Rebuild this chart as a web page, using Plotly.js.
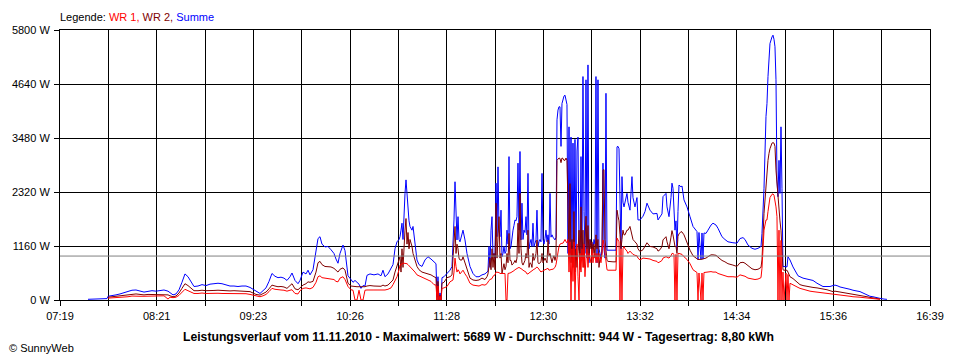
<!DOCTYPE html>
<html><head><meta charset="utf-8">
<script src="https://cdn.plot.ly/plotly-3.0.1.min.js"></script>
<style>html,body{margin:0;padding:0;background:#fff}#chart{width:960px;height:360px}</style>
</head><body><div id="chart"></div>
<script>
const day = '2010-11-11 ';
const times = [
'07:37:01','07:41:32','07:44:45','07:49:15','07:49:54','07:52:28','07:55:03','07:57:37','08:00:11','08:02:46',
'08:05:20','08:07:55','08:10:30','08:13:04','08:15:39','08:18:13','08:20:48','08:23:22','08:25:56','08:28:31',
'08:29:48','08:31:44','08:33:40','08:35:36','08:37:31','08:39:27','08:41:23','08:43:20','08:45:15','08:47:50',
'08:50:24','08:52:59','08:55:33','08:58:07','09:00:42','09:03:16','09:05:51','09:08:25','09:10:59','09:13:34',
'09:16:09','09:18:44','09:21:18','09:23:14','09:25:10','09:27:44','09:29:40','09:31:36','09:33:32','09:35:27',
'09:37:23','09:39:19','09:41:15','09:43:10','09:45:06','09:47:03','09:48:20','09:50:16','09:52:12','09:53:29',
'09:55:25','09:57:21','09:58:38','09:59:55','10:01:51','10:03:47','10:05:04','10:06:21','10:07:38','10:09:34',
'10:11:30','10:13:26','10:15:21','10:16:39','10:17:56','10:19:14','10:21:10','10:22:27','10:24:23','10:26:19',
'10:27:36','10:28:53','10:30:10','10:31:28','10:32:45','10:34:02','10:35:19','10:36:36','10:38:32','10:41:06',
'10:43:41','10:45:37','10:46:54','10:48:11','10:50:07','10:52:04','10:53:21','10:54:38','10:55:55','10:57:13',
'10:57:51','10:58:30','10:59:08','10:59:47','11:00:25','11:01:04','11:01:43','11:02:21','11:03:00','11:03:39',
'11:04:17','11:05:34','11:06:13','11:07:30','11:08:47','11:10:05','11:12:00','11:13:56','11:15:52','11:17:48',
'11:19:43','11:21:01','11:21:40','11:22:18','11:22:57','11:23:36','11:24:15','11:24:53','11:26:10','11:28:06',
'11:30:02','11:31:19','11:31:58','11:32:36','11:33:15','11:33:54','11:34:32','11:35:11','11:35:50','11:36:28',
'11:37:45','11:38:24','11:39:41','11:40:58','11:42:54','11:44:50','11:46:46','11:48:42','11:50:37','11:52:33',
'11:53:50','11:54:29','11:55:08','11:55:47','11:56:26','11:57:04','11:57:43','11:58:21','11:59:00','11:59:39',
'12:00:17','12:00:56','12:01:35','12:02:13','12:02:52','12:03:30','12:04:09','12:04:47','12:05:26','12:06:05',
'12:06:43','12:07:22','12:08:01','12:08:39','12:09:18','12:09:56','12:10:35','12:11:13','12:11:52','12:12:31',
'12:13:09','12:13:48','12:14:27','12:15:05','12:15:44','12:16:22','12:17:01','12:17:39','12:18:18','12:18:57',
'12:19:35','12:20:14','12:20:53','12:21:31','12:22:10','12:22:48','12:23:27','12:24:05','12:24:44','12:25:23',
'12:26:01','12:26:40','12:27:19','12:27:58','12:28:36','12:29:15','12:29:53','12:30:32','12:31:11','12:31:49',
'12:32:28','12:33:07','12:33:45','12:34:24','12:35:03','12:35:41','12:36:20','12:36:58','12:37:37','12:38:16',
'12:38:54','12:39:33','12:40:11','12:40:50','12:41:29','12:42:07','12:42:46','12:43:24','12:44:03','12:44:42',
'12:45:20','12:45:59','12:46:38','12:47:16','12:47:55','12:48:33','12:49:12','12:49:50','12:50:29','12:51:08',
'12:51:46','12:52:25','12:53:04','12:53:42','12:54:21','12:54:59','12:55:38','12:56:16','12:56:55','12:57:34',
'12:58:12','12:58:51','12:59:30','13:00:09','13:00:47','13:01:26','13:02:04','13:02:43','13:03:22','13:04:00',
'13:04:39','13:05:17','13:05:56','13:06:35','13:07:13','13:07:52','13:08:30','13:09:09','13:09:48','13:10:26',
'13:11:05','13:11:44','13:13:01','13:14:57','13:16:53','13:17:32','13:18:11','13:18:49','13:19:27','13:20:06',
'13:20:44','13:21:23','13:22:02','13:22:40','13:23:57','13:24:36','13:25:53','13:27:10','13:27:49','13:29:06',
'13:30:23','13:31:02','13:32:20','13:34:16','13:35:33','13:36:50','13:38:46','13:40:42','13:43:16','13:43:55',
'13:45:12','13:46:29','13:47:08','13:49:04','13:49:43','13:51:00','13:52:17','13:52:55','13:53:34','13:54:12',
'13:54:51','13:55:30','13:56:08','13:56:47','13:57:26','13:58:43','13:59:22','14:00:39','14:02:35','14:04:31',
'14:06:27','14:09:01','14:09:40','14:10:18','14:11:36','14:12:14','14:12:53','14:13:31','14:14:48','14:16:05',
'14:18:02','14:19:19','14:21:15','14:22:32','14:25:06','14:27:01','14:28:57','14:32:09','14:34:45','14:36:42',
'14:38:38','14:39:55','14:41:51','14:44:26','14:46:21','14:48:17','14:50:13','14:50:51','14:52:09','14:53:26',
'14:54:04','14:54:43','14:55:22','14:56:00','14:57:17','14:57:56','14:58:35','14:59:13','14:59:52','15:00:30',
'15:01:09','15:01:48','15:02:26','15:03:05','15:03:43','15:04:22','15:05:01','15:06:18','15:06:57','15:07:35',
'15:08:14','15:08:53','15:10:49','15:12:45','15:14:02','15:15:19','15:17:15','15:19:49','15:21:45','15:23:41',
'15:26:16','15:28:11','15:30:07','15:32:42','15:34:37','15:36:33','15:37:51','15:39:47','15:41:04','15:43:38',
'15:45:34','15:47:30','15:49:26','15:52:01','15:53:56','15:56:31','15:58:27','16:00:22','16:02:18','16:04:14',
'16:06:48','16:09:23','16:11:18'
];
const summe = [
15,15,30,30,80,90,110,130,160,180,
210,215,190,170,185,200,190,210,215,190,
150,110,130,220,380,560,500,390,290,300,
330,310,340,350,360,350,330,300,300,290,
300,300,270,230,180,140,200,260,400,570,
510,480,490,470,420,500,580,420,350,420,
600,560,640,540,650,1000,1320,1360,1200,1140,
1150,1080,1000,880,790,1000,1180,1060,520,440,
380,420,380,340,250,310,300,530,560,540,
560,520,640,500,560,700,760,1100,1250,1300,
1360,1500,1650,1300,2080,2290,2580,2300,1860,1700,
1580,1500,1580,1150,860,760,720,860,930,880,
820,780,60,500,0,150,0,480,500,570,
640,720,1150,1720,2540,1800,1290,1790,1300,1250,
1430,1500,1290,1000,720,570,500,500,540,560,
600,620,1150,700,1500,1790,940,1000,900,2510,
1360,2860,1500,1360,1930,930,1000,1150,1000,1050,
1500,1200,3080,1100,1150,1400,1500,1600,1720,1700,
1790,2940,1500,3190,1290,2080,1300,1500,1450,1790,
1400,2720,1100,1220,1300,1150,1650,1150,1200,1290,
1930,1150,1250,1300,1250,2720,1300,1200,1320,1500,
1250,1400,1200,2290,1350,1400,1350,1300,1290,1350,
3870,4080,4150,4150,3300,4220,4330,4380,4400,4300,
4200,1000,3720,1000,3500,900,3370,1100,3450,860,
3200,3500,1100,1000,3080,900,4800,1900,1000,4730,
900,5050,800,1300,1200,1220,1100,1300,1200,4800,
800,4730,1100,1000,900,1100,2940,1100,900,4440,
1070,1070,1070,1070,1070,3290,3300,3250,2000,1100,
2650,2100,2000,2100,2290,2100,1930,2650,2200,2000,
2200,1720,1720,1800,1900,2080,1930,1850,1860,1720,
1780,1850,2220,2290,2000,1790,2200,2510,2400,1900,
1500,1700,1070,1900,2470,2430,2450,2150,2000,1790,
1580,1470,870,1450,870,1440,880,1440,1430,1500,
1610,1650,1610,1540,1360,1300,1250,1230,1220,1320,
1340,1300,1180,1110,1090,1110,1150,1430,2400,3940,
4220,4800,5200,5510,5650,5689,5600,5440,4730,2580,
2220,3000,2290,3720,2400,720,720,720,710,930,
900,860,710,600,520,500,470,450,430,420,
360,330,290,290,290,310,320,300,280,260,
250,230,210,190,180,140,110,80,70,50,
35,20,14
];
const wr2 = [
null,null,null,null,60,70,75,80,100,110,
125,130,120,110,120,120,115,125,125,110,
90,70,85,150,250,350,310,250,200,200,
210,200,210,205,210,200,200,195,200,195,
200,195,180,150,120,105,130,170,240,320,
300,285,290,280,250,300,350,240,220,260,
320,350,390,380,400,600,800,830,760,720,
720,710,680,640,600,660,690,640,360,300,
290,290,285,285,280,285,285,300,310,300,
300,295,320,300,320,380,430,600,750,880,
930,600,1100,700,1300,1500,1750,1200,1450,1100,
1300,1150,1000,880,720,650,600,580,560,540,
500,480,0,400,0,100,0,360,380,480,
500,540,900,1300,1580,1000,1200,1100,900,860,
860,930,800,650,470,430,420,430,470,440,
500,560,700,900,650,1100,700,1000,650,2080,
900,1300,1790,900,1000,570,700,780,650,720,
1000,800,1430,850,850,750,780,800,850,800,
900,1650,1000,2290,1100,800,750,800,850,1000,
900,1500,700,800,780,700,1000,850,900,1000,
1290,800,780,800,820,1000,800,850,900,850,
800,1290,950,1000,850,800,900,950,850,950,
3000,3040,3050,3040,2950,3050,3040,3000,3000,3050,
3000,2000,1000,2500,800,1300,700,1900,600,1100,
700,1000,1500,650,2000,900,1500,700,1200,1800,
1000,1600,900,1300,1100,1250,1000,1200,900,1400,
1100,1300,700,900,900,1000,2790,2800,1300,1000,
850,830,820,820,820,1930,1800,1700,1400,1100,
1300,1500,1400,1400,1500,1500,1580,1400,1300,1250,
1200,1100,1040,1080,1150,1230,1150,1140,1100,1050,
1080,1150,1290,1360,1250,1100,1350,1490,1400,1250,
1150,1150,1000,1370,1420,1470,1460,1400,1220,1070,
950,880,870,870,870,880,880,890,900,930,
970,970,960,920,850,820,780,750,720,800,
810,790,730,670,650,660,700,860,1860,2500,
2790,3000,3150,3250,3370,3380,3370,3300,2790,2500,
2200,1850,1700,1500,1100,650,640,650,640,600,
560,500,460,400,360,330,310,290,280,270,
260,250,230,220,200,180,190,180,170,150,
140,130,120,110,100,80,70,55,50,35,
20,null,null
];
const wr1 = [
null,null,null,null,40,45,50,45,60,70,
85,90,80,80,85,90,80,90,90,20,
60,50,60,100,170,230,200,170,140,140,
150,140,145,145,145,140,140,140,140,135,
140,135,120,100,85,70,90,120,180,250,
230,215,215,210,190,210,220,140,130,200,
250,260,250,240,270,380,500,520,480,470,
460,460,440,400,390,470,500,440,290,220,
210,0,0,210,0,0,210,215,220,215,
215,210,220,215,230,260,330,430,500,650,
750,760,780,790,790,790,790,780,760,740,
720,680,650,600,540,520,480,460,430,400,
330,320,0,300,0,80,0,250,260,290,
390,420,430,600,900,720,600,650,620,560,
600,640,560,500,360,320,310,300,330,320,
350,400,420,440,450,460,510,520,540,600,
600,600,590,570,570,570,580,580,570,0,
0,570,570,580,590,600,610,630,650,670,
680,690,700,690,680,660,640,630,620,600,
560,560,580,600,620,640,650,660,670,700,
710,690,660,640,600,620,620,640,650,660,
670,680,640,650,650,660,660,680,700,760,
930,1100,1150,1200,1220,1220,1220,1250,1300,1250,
1230,1300,600,1250,0,1100,400,1250,0,900,
1200,500,0,1000,600,1100,700,1200,500,900,
1100,700,1000,900,800,1100,800,1000,1000,800,
1000,800,1000,900,800,1000,1290,1200,1000,800,
650,640,640,640,640,1330,1300,1250,0,1100,
0,1100,1150,1100,1050,1000,1050,1000,980,960,
950,900,860,900,900,890,880,850,830,800,
820,850,900,930,920,900,950,1000,1000,980,
0,980,0,1000,1000,990,980,930,870,780,
650,590,0,580,0,580,0,590,600,610,
610,600,600,570,540,520,500,500,490,540,
530,510,470,445,440,450,480,680,1500,1720,
1720,1900,2080,2200,2270,2280,2250,2150,2000,1790,
0,1500,0,1280,0,600,0,580,0,550,
0,360,320,290,270,250,230,200,190,180,
170,160,150,150,140,130,130,120,110,110,
100,80,70,70,60,50,45,40,35,25,
15,null,null
];
const yTickVals = [0, 1160, 2320, 3480, 4640, 5800];
const yTickText = ['0 W', '1160 W', '2320 W', '3480 W', '4640 W', '5800 W'];
const xGridTimes = ['07:19:00','07:50:07','08:21:13','08:52:20','09:23:27','09:54:33','10:25:40','10:56:47','11:27:53','11:59:00',
  '12:30:07','13:01:13','13:32:20','14:03:27','14:34:33','15:05:40','15:36:47','16:07:53','16:39:00'];
const xTickLabels = ['07:19','','08:21','','09:23','','10:26','','11:28','','12:30','','13:32','','14:34','','15:36','','16:39'];
const average = 944;
const footer = 'Leistungsverlauf vom 11.11.2010 - Maximalwert: 5689 W - Durchschnitt: 944 W - Tagesertrag: 8,80 kWh';

const x = times.map(t => day + t);
const mk = (y, color) => ({x: x, y: y, type: 'scatter', mode: 'lines', line: {color: color, width: 1}, connectgaps: false, hoverinfo: 'skip'});
const data = [mk(summe, '#0000FF'), mk(wr2, '#800000'), mk(wr1, '#FF0000')];

const font = 'Liberation Sans, Arial, sans-serif';
const layout = {
  width: 960, height: 360,
  margin: {l: 60, r: 30, t: 30, b: 60, pad: 0},
  paper_bgcolor: '#ffffff', plot_bgcolor: '#ffffff',
  showlegend: false,
  font: {family: font, size: 11, color: '#000000'},
  xaxis: {
    type: 'date', range: [day + '07:19:00', day + '16:39:00'],
    tickmode: 'array', tickvals: xGridTimes.map(t => day + t), ticktext: xTickLabels,
    ticks: 'outside', ticklen: 5, tickcolor: '#000', tickwidth: 1, ticklabelstandoff: 1,
    showgrid: true, gridcolor: '#000000', gridwidth: 1,
    showline: true, mirror: true, linecolor: '#000', linewidth: 1,
    zeroline: false, tickfont: {family: font, size: 11, color: '#000'}
  },
  yaxis: {
    range: [0, 5800], tickmode: 'array', tickvals: yTickVals, ticktext: yTickText,
    ticks: 'outside', ticklen: 5, tickcolor: '#000', tickwidth: 1, ticklabelstandoff: 2,
    showgrid: true, gridcolor: '#000000', gridwidth: 1,
    showline: true, mirror: true, linecolor: '#000', linewidth: 1,
    zeroline: false, tickfont: {family: font, size: 11, color: '#000'}
  },
  shapes: [{type: 'line', xref: 'paper', x0: 0, x1: 1, yref: 'y', y0: average, y1: average,
            line: {color: '#808080', width: 1}, layer: 'above'}],
  annotations: [
    {xref: 'paper', yref: 'paper', x: -0.002, y: 1.048, xanchor: 'left', yanchor: 'middle', showarrow: false,
     text: 'Legende: <span style="color:#FF0000">WR 1,</span> <span style="color:#800000">WR 2,</span> <span style="color:#0000FF">Summe</span>',
     font: {family: font, size: 11, color: '#000'}},
    {xref: 'paper', yref: 'paper', x: 0.4816, y: -0.137, xanchor: 'center', yanchor: 'middle', showarrow: false,
     text: '<b>' + footer + '</b>', font: {family: font, size: 12.2, color: '#000'}},
    {xref: 'paper', yref: 'paper', x: -0.061, y: -0.178, xanchor: 'left', yanchor: 'middle', showarrow: false,
     text: '© SunnyWeb', font: {family: font, size: 11, color: '#000'}}
  ]
};
Plotly.newPlot('chart', data, layout, {staticPlot: true, displayModeBar: false});
</script></body></html>
